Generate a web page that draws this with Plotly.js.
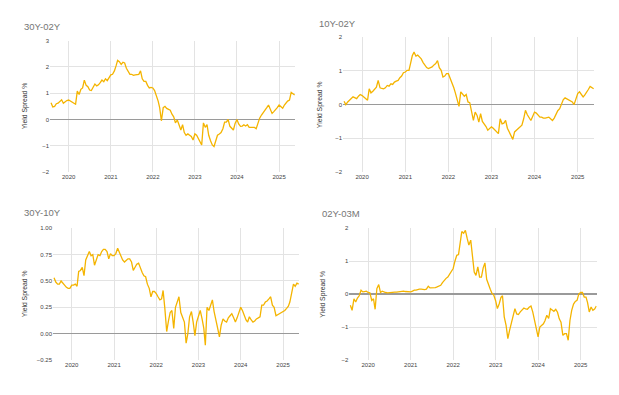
<!DOCTYPE html>
<html>
<head>
<meta charset="utf-8">
<script src="https://cdn.plot.ly/plotly-3.0.1.min.js"></script>
<style>html,body{margin:0;padding:0;background:#fff;}#chart{width:619px;height:395px;}</style>
</head>
<body>
<div id="chart"></div>
<script>
// ---- DATA (semi-monthly observations, 1st and 16th of each month, Aug 2019 - May 2025) ----
const startYear = 2019, startMonth = 8, endYear = 2025, endMonth = 5;

const titles = ["30Y-02Y", "10Y-02Y", "30Y-10Y", "02Y-03M"];
const yAxisLabel = "Yield Spread %";

const spread30y02y = [
  0.64,0.48, 0.50,0.60, 0.62,0.68, 0.75,0.62, 0.68,0.72,
  0.74,0.70, 0.68,0.62, 0.58,1.08, 0.95,1.15, 1.20,1.50, 1.30,1.25, 1.12,1.10, 1.22,1.35, 1.28,1.32, 1.40,1.50, 1.44,1.55, 1.48,1.60,
  1.70,1.72, 1.85,2.05, 2.25,2.20, 2.10,2.18, 2.15,1.95, 1.80,1.72, 1.72,1.68, 1.70,1.72, 1.72,1.85, 1.55,1.45, 1.45,1.30, 1.20,1.22,
  1.20,1.10, 0.90,0.70, 0.45,-0.05, 0.45,0.50, 0.42,0.38, 0.35,0.20, 0.10,-0.13, -0.02,-0.20, -0.40,-0.20, -0.50,-0.60, -0.55,-0.60, -0.65,-0.78,
  -0.55,-0.60, -0.72,-0.85, -0.97,-0.13, -0.30,-0.20, -0.60,-0.80, -0.97,-1.03, -0.80,-0.60, -0.55,-0.50, -0.35,-0.10, -0.10,0.00, -0.26,-0.35, -0.40,-0.15,
  0.00,-0.17, -0.26,-0.25, -0.20,-0.25, -0.20,-0.30, -0.30,-0.28, -0.30,-0.35, -0.13,0.05, 0.17,0.25, 0.36,0.45, 0.55,0.40, 0.23,0.30, 0.36,0.45,
  0.55,0.50, 0.43,0.55, 0.62,0.70, 0.74,1.03, 0.98,0.93
];

const spread10y02y = [
  0.10,0.00, 0.08,0.12, 0.18,0.23, 0.20,0.18, 0.25,0.30,
  0.27,0.22, 0.18,0.13, 0.47,0.35, 0.40,0.47, 0.52,0.72, 0.50,0.48, 0.47,0.50, 0.57,0.55, 0.62,0.60, 0.67,0.70, 0.72,0.80, 0.85,0.95,
  0.97,1.02, 1.02,1.25, 1.45,1.56, 1.44,1.47, 1.42,1.36, 1.25,1.17, 1.10,1.07, 1.10,1.12, 1.18,1.22, 1.31,1.10, 1.02,0.82, 0.85,0.92,
  0.92,0.80, 0.67,0.50, 0.35,0.18, -0.05,0.38, 0.30,0.25, 0.30,0.08, 0.06,-0.22, -0.47,-0.22, -0.32,-0.52, -0.27,-0.50, -0.57,-0.65, -0.76,-0.70,
  -0.66,-0.70, -0.76,-0.80, -0.86,-0.42, -0.57,-0.55, -0.47,-0.70, -0.81,-0.95, -1.03,-0.81, -0.75,-0.71, -0.65,-0.61, -0.42,-0.17, -0.30,-0.37, -0.47,-0.35,
  -0.22,-0.25, -0.30,-0.37, -0.37,-0.40, -0.40,-0.38, -0.37,-0.42, -0.47,-0.40, -0.27,-0.18, -0.12,0.00, 0.15,0.20, 0.17,0.13, 0.10,0.08, 0.00,0.20,
  0.33,0.38, 0.30,0.23, 0.28,0.35, 0.45,0.54, 0.50,0.47
];

const spread30y10y = [
  0.53,0.49, 0.47,0.47, 0.50,0.48, 0.46,0.44, 0.43,0.43,
  0.46,0.46, 0.47,0.45, 0.59,0.60, 0.63,0.55, 0.70,0.74, 0.78,0.74, 0.75,0.65, 0.70,0.75, 0.74,0.78, 0.80,0.80, 0.78,0.71, 0.76,0.74,
  0.74,0.76, 0.81,0.77, 0.73,0.70, 0.68,0.70, 0.71,0.71, 0.68,0.60, 0.63,0.66, 0.67,0.62, 0.58,0.55, 0.54,0.47, 0.43,0.35, 0.40,0.40,
  0.38,0.35, 0.32,0.33, 0.41,0.24, 0.02,0.12, 0.20,0.22, 0.05,0.25, 0.30,0.35, 0.20,0.15, 0.11,-0.09, 0.00,0.16, 0.21,0.11, -0.02,0.11,
  0.18,0.22, 0.14,0.05, -0.11,0.25, 0.22,0.28, 0.32,0.21, 0.11,0.05, -0.03,0.08, 0.14,0.12, 0.11,0.15, 0.17,0.19, 0.15,0.11, 0.15,0.20,
  0.25,0.22, 0.17,0.13, 0.11,0.16, 0.13,0.11, 0.12,0.14, 0.15,0.16, 0.27,0.27, 0.30,0.31, 0.33,0.35, 0.27,0.25, 0.17,0.18, 0.19,0.20,
  0.21,0.22, 0.24,0.26, 0.30,0.40, 0.47,0.45, 0.48,0.47
];

const spread02y03m = [
  -0.34,-0.49, -0.14,-0.24, -0.12,-0.05, 0.12,0.07, 0.08,0.09,
  0.05,0.04, -0.19,-0.14, -0.46,0.17, 0.29,0.05, 0.09,0.06, 0.05,0.04, 0.05,0.05, 0.05,0.06, 0.06,0.07, 0.07,0.08, 0.09,0.08, 0.07,0.07,
  0.07,0.09, 0.12,0.12, 0.14,0.15, 0.15,0.14, 0.14,0.15, 0.24,0.19, 0.19,0.20, 0.20,0.22, 0.25,0.27, 0.35,0.42, 0.48,0.52, 0.60,0.67,
  0.78,1.00, 1.18,1.20, 1.50,1.90, 1.85,1.94, 1.70,1.49, 1.64,1.20, 0.67,0.57, 0.83,0.52, 0.52,0.80, 0.95,0.45, 0.27,0.15, 0.02,-0.03,
  -0.20,-0.44, -0.29,-0.10, -0.05,-0.69, -0.95,-1.35, -1.10,-0.85, -0.59,-0.44, -0.60,-0.62, -0.54,-0.48, -0.42,-0.45, -0.46,-0.40, -0.36,-0.54, -0.80,-1.10,
  -1.30,-1.00, -0.95,-0.90, -0.80,-0.64, -0.74,-0.44, -0.48,-0.52, -0.46,-0.55, -0.75,-0.85, -1.25,-1.20, -1.20,-1.40, -0.80,-0.49, -0.30,-0.22, -0.19,0.00,
  0.05,0.05, -0.09,-0.09, -0.25,-0.54, -0.39,-0.49, -0.45,-0.36
];

const yRanges = [[-2, 3], [-2, 2], [-0.25, 1], [-2, 2]];
const yDticks = [1, 1, 0.25, 1];
const yFormats = ["", "", ".2f", ""];

// ---- build dates ----
const dates = [];
{
  let y = startYear, m = startMonth;
  while (y < endYear || (y === endYear && m <= endMonth)) {
    const mm = String(m).padStart(2, "0");
    dates.push(`${y}-${mm}-01`, `${y}-${mm}-16`);
    m++; if (m > 12) { m = 1; y++; }
  }
}
const seriesList = [spread30y02y, spread10y02y, spread30y10y, spread02y03m];

// ---- layout (pixel boxes of each plot area) ----
const W = 619, H = 395;
const boxes = [
  {l: 50, r: 295, t: 40.7, b: 172, titleX: 22, titleY: 26, axX: 25},
  {l: 343, r: 594, t: 37.3, b: 172, titleX: 317, titleY: 23.5, axX: 319.5},
  {l: 53, r: 299, t: 228.3, b: 360, titleX: 22, titleY: 212, axX: 25},
  {l: 349.3, r: 596.7, t: 228.3, b: 360, titleX: 320, titleY: 213, axX: 323.5}
];
const lineColor = "#f4b400";
const fontFam = "Liberation Sans, Arial, sans-serif";

const data = [];
const layout = {
  width: W, height: H, autosize: false,
  margin: {l: 0, r: 0, t: 0, b: 0, pad: 0},
  paper_bgcolor: "#fff", plot_bgcolor: "#fff",
  showlegend: false,
  font: {family: fontFam, color: "#444"},
  annotations: []
};

boxes.forEach((bx, i) => {
  const k = i === 0 ? "" : String(i + 1);
  data.push({
    type: "scatter", mode: "lines",
    x: dates, y: seriesList[i],
    xaxis: "x" + k, yaxis: "y" + k,
    line: {color: lineColor, width: 1.3},
    hoverinfo: "skip"
  });
  layout["xaxis" + k] = {
    domain: [bx.l / W, bx.r / W], anchor: "y" + k,
    type: "date", range: ["2019-07-23", "2025-05-19"],
    dtick: "M12", tick0: "2020-01-01", tickformat: "%Y",
    showgrid: true, gridcolor: "#e3e3e3", gridwidth: 1,
    zeroline: false, showline: false, ticks: "",
    tickfont: {size: 6, color: "#444", family: fontFam},
    fixedrange: true
  };
  layout["yaxis" + k] = {
    domain: [1 - bx.b / H, 1 - bx.t / H], anchor: "x" + k,
    range: yRanges[i], dtick: yDticks[i], tick0: 0, tickformat: yFormats[i],
    showgrid: true, gridcolor: "#e3e3e3", gridwidth: 1,
    zeroline: true, zerolinecolor: "#9a9a9a", zerolinewidth: 1.4,
    showline: false, ticks: "",
    tickfont: {size: 6, color: "#444", family: fontFam},
    fixedrange: true
  };
  layout.annotations.push({
    text: titles[i], xref: "paper", yref: "paper",
    x: bx.titleX / W, y: 1 - bx.titleY / H, xanchor: "left", yanchor: "middle",
    showarrow: false, font: {size: 9.5, color: "#757575", family: fontFam}
  });
  layout.annotations.push({
    text: yAxisLabel, xref: "paper", yref: "paper",
    x: bx.axX / W, y: 1 - (bx.t + bx.b) / 2 / H, xanchor: "center", yanchor: "middle",
    textangle: -90, showarrow: false, font: {size: 6.8, color: "#333", family: fontFam}
  });
});

Plotly.newPlot("chart", data, layout, {staticPlot: true, displayModeBar: false});
</script>
</body>
</html>
